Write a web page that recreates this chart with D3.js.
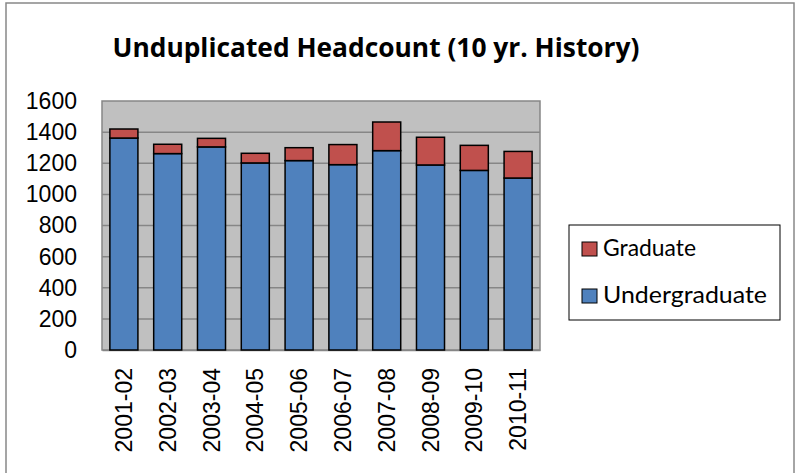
<!DOCTYPE html>
<html>
<head>
<meta charset="utf-8">
<script src="https://cdn.jsdelivr.net/npm/d3@7"></script>
<style>
  body { margin: 0; background: #fff; }
  svg { display: block; }
</style>
</head>
<body>
<script>
const years = ["2001-02", "2002-03", "2003-04", "2004-05", "2005-06", "2006-07", "2007-08", "2008-09", "2009-10", "2010-11"];
const undergraduate = [1362, 1262, 1305, 1202, 1217, 1191, 1281, 1189, 1154, 1105];
const graduate = [58, 60, 55, 62, 83, 129, 184, 178, 161, 171];
const yTicks = [0, 200, 400, 600, 800, 1000, 1200, 1400, 1600];
const seriesNames = ["Undergraduate", "Graduate"];
const colors = { Undergraduate: "#4f81bd", Graduate: "#c0504d" };

const width = 795, height = 473;
const plot = { left: 102, right: 540, top: 101, bottom: 350 };

const svg = d3.select("body").append("svg")
  .attr("width", width)
  .attr("height", height);

// outer chart frame
svg.append("rect")
  .attr("x", 6).attr("y", 3)
  .attr("width", 788).attr("height", 480)
  .attr("fill", "#fff")
  .attr("stroke", "#888")
  .attr("stroke-width", 1.5);

// title
svg.append("text")
  .attr("x", 376)
  .attr("y", 57)
  .attr("text-anchor", "middle")
  .style("font-family", "'Open Sans', Lato, sans-serif")
  .style("font-weight", "bold")
  .style("font-size", "27px")
  .attr("fill", "#000")
  .attr("textLength", 527)
  .attr("lengthAdjust", "spacingAndGlyphs")
  .text("Unduplicated Headcount (10 yr. History)");

// scales
const x = d3.scaleBand()
  .domain(years)
  .range([plot.left, plot.right])
  .paddingInner(0.36)
  .paddingOuter(0.18);

const y = d3.scaleLinear()
  .domain([0, 1600])
  .range([plot.bottom, plot.top]);

// plot area
svg.append("rect")
  .attr("x", plot.left).attr("y", plot.top)
  .attr("width", plot.right - plot.left)
  .attr("height", plot.bottom - plot.top)
  .attr("fill", "#c0c0c0")
  .attr("stroke", "#868686")
  .attr("stroke-width", 1.5);

// gridlines
svg.append("g")
  .selectAll("line")
  .data(yTicks.slice(1, -1))
  .join("line")
  .attr("x1", plot.left).attr("x2", plot.right)
  .attr("y1", d => y(d)).attr("y2", d => y(d))
  .attr("stroke", "#868686")
  .attr("stroke-width", 1.5);

// y axis
const yAxis = svg.append("g")
  .attr("transform", `translate(${plot.left}, 0)`)
  .call(d3.axisLeft(y).tickValues(yTicks).tickSize(0).tickPadding(25).tickFormat(d3.format("d")));
yAxis.select(".domain").remove();
yAxis.selectAll("text")
  .style("font-family", "'Liberation Sans', Arial, sans-serif")
  .style("font-size", "23px")
  .attr("fill", "#000");

// x axis
const xAxis = svg.append("g")
  .attr("transform", `translate(0, ${plot.bottom})`)
  .call(d3.axisBottom(x).tickSize(0));
xAxis.select(".domain")
  .attr("stroke", "#868686")
  .attr("stroke-width", 1.5);
xAxis.selectAll("text")
  .style("font-family", "'Liberation Sans', Arial, sans-serif")
  .style("font-size", "23px")
  .attr("fill", "#000")
  .attr("text-anchor", "end")
  .attr("transform", "rotate(-90)")
  .attr("x", -18)
  .attr("y", 0)
  .attr("dy", "0.35em");

// stacked bars
const rows = years.map((yr, i) => ({ year: yr, Undergraduate: undergraduate[i], Graduate: graduate[i] }));
const stacked = d3.stack().keys(seriesNames)(rows);

svg.append("g")
  .selectAll("g")
  .data(stacked)
  .join("g")
  .attr("fill", d => colors[d.key])
  .selectAll("rect")
  .data(d => d)
  .join("rect")
  .attr("x", d => x(d.data.year))
  .attr("y", d => y(d[1]))
  .attr("width", x.bandwidth())
  .attr("height", d => y(d[0]) - y(d[1]))
  .attr("stroke", "#000")
  .attr("stroke-width", 1.5);

// legend
const legend = svg.append("g");
legend.append("rect")
  .attr("x", 569).attr("y", 225)
  .attr("width", 211).attr("height", 95)
  .attr("fill", "#fff")
  .attr("stroke", "#000")
  .attr("stroke-width", 1);

const legendItems = ["Graduate", "Undergraduate"];
const li = legend.selectAll("g.item")
  .data(legendItems)
  .join("g")
  .attr("class", "item")
  .attr("transform", (d, i) => `translate(582, ${242 + i * 47})`);
li.append("rect")
  .attr("width", 15).attr("height", 14)
  .attr("fill", d => colors[d])
  .attr("stroke", "#000")
  .attr("stroke-width", 1);
li.append("text")
  .attr("x", 21)
  .attr("y", 14)
  .style("font-family", "Lato, 'Open Sans', sans-serif")
  .style("font-size", "24px")
  .attr("fill", "#000")
  .attr("textLength", d => d === "Undergraduate" ? 164 : 93)
  .attr("lengthAdjust", "spacingAndGlyphs")
  .text(d => d);
</script>
</body>
</html>
